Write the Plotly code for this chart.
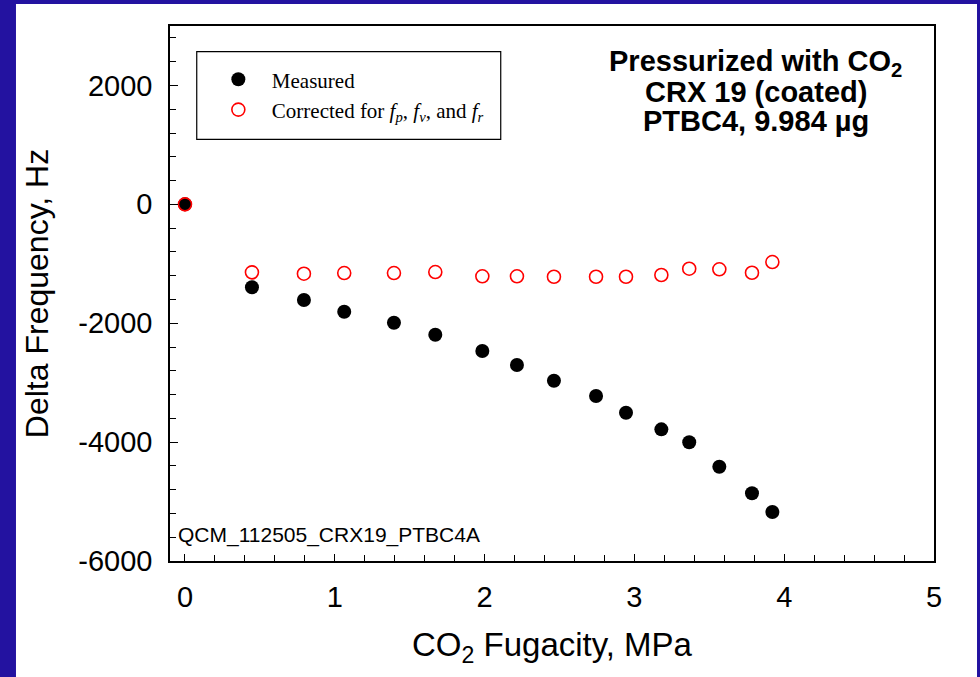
import plotly.graph_objects as go

# ---- data ----
fugacity = [0.0, 0.447, 0.794, 1.063, 1.395, 1.671, 1.985, 2.216, 2.463,
            2.744, 2.944, 3.180, 3.366, 3.567, 3.785, 3.921]
measured = [0, -1396, -1610, -1807, -1992, -2193, -2468, -2703, -2967,
            -3225, -3505, -3785, -4003, -4414, -4861, -5176]
corrected = [0, -1144, -1167, -1156, -1156, -1139, -1211, -1211, -1218,
             -1218, -1218, -1189, -1083, -1093, -1151, -971]

x_ticks = [0, 1, 2, 3, 4, 5]
x_tick_labels = ["0", "1", "2", "3", "4", "5"]
y_ticks = [-6000, -4000, -2000, 0, 2000]
y_tick_labels = ["-6000", "-4000", "-2000", "0", "2000"]

BLUE = "#2312A0"
SANS = "Arial, Liberation Sans, sans-serif"
SERIF = "Times New Roman, Liberation Serif, serif"

fig = go.Figure()
fig.add_trace(go.Scatter(
    x=fugacity, y=measured, mode="markers", name="Measured",
    marker=dict(symbol="circle", size=14, color="black", line=dict(width=0)),
))
fig.add_trace(go.Scatter(
    x=fugacity, y=corrected, mode="markers",
    name="Corrected for <i>f<sub>p</sub></i>, <i>f<sub>v</sub></i>, and <i>f<sub>r</sub></i>",
    marker=dict(symbol="circle-open", size=13, color="#FF0000", line=dict(width=1.6, color="#FF0000")),
))

axis_common = dict(
    showline=True, linecolor="black", linewidth=1.5, mirror=True,
    showgrid=False, zeroline=False,
    ticks="inside", tickcolor="black", tickwidth=1.2,
    tickfont=dict(family=SANS, size=29, color="black"),
)

fig.update_xaxes(
    **axis_common, range=[-0.1, 5], tickmode="array",
    tickvals=x_ticks, ticktext=x_tick_labels, ticklen=7,
    minor=dict(dtick=0.2, tick0=0, ticks="inside", ticklen=6, tickcolor="black", tickwidth=1.2),
    title=dict(text="CO<sub>2</sub> Fugacity, MPa", font=dict(family=SANS, size=33, color="black"), standoff=21),
    ticklabelstandoff=9,
)
fig.update_yaxes(
    **axis_common, range=[-6000, 3000], tickmode="array",
    tickvals=y_ticks, ticktext=y_tick_labels, ticklen=8,
    minor=dict(dtick=400, tick0=0, ticks="inside", ticklen=6, tickcolor="black", tickwidth=1.2),
    title=dict(text="Delta Frequency, Hz", font=dict(family=SANS, size=32, color="black"), standoff=20),
    ticklabelstandoff=10,
)

shapes = [
    # white inner panel on blue background
    dict(type="rect", xref="paper", yref="paper", x0=-0.2016, x1=1.0563, y0=-0.23, y1=1.0411,
         fillcolor="white", line=dict(width=0), layer="below"),
    # legend box
    dict(type="rect", xref="paper", yref="paper", x0=0.035, x1=0.4329, y0=0.788, y1=0.952,
         fillcolor="rgba(0,0,0,0)", line=dict(width=1.2, color="black"), layer="above"),
]

annotations = [
    dict(text="<b>Pressurized with CO<sub>2</sub></b>", x=0.767, y=0.931),
    dict(text="<b>CRX 19 (coated)</b>", x=0.767, y=0.877),
    dict(text="<b>PTBC4, 9.984 µg</b>", x=0.767, y=0.823),
]
annotations = [dict(**a, xref="paper", yref="paper", showarrow=False, xanchor="center", yanchor="middle",
                    font=dict(family=SANS, size=29, color="black")) for a in annotations]
annotations.append(dict(text="QCM_112505_CRX19_PTBC4A", x=0.008, y=0.0477, xref="paper", yref="paper",
                        showarrow=False, xanchor="left", yanchor="middle",
                        font=dict(family=SANS, size=21, color="black")))

fig.update_layout(
    width=980, height=677,
    margin=dict(l=170, r=46, t=26, b=116, autoexpand=False),
    paper_bgcolor=BLUE, plot_bgcolor="white",
    showlegend=True,
    legend=dict(x=0.0456, y=0.938, xanchor="left", yanchor="top",
                bgcolor="rgba(0,0,0,0)", borderwidth=0,
                font=dict(family=SERIF, size=21, color="black"),
                itemwidth=57, tracegroupgap=0),
    shapes=shapes, annotations=annotations,
)

fig.write_html("out.html", config={"displayModeBar": False},
               post_script="document.body.style.margin='0';document.body.style.overflow='hidden';")
